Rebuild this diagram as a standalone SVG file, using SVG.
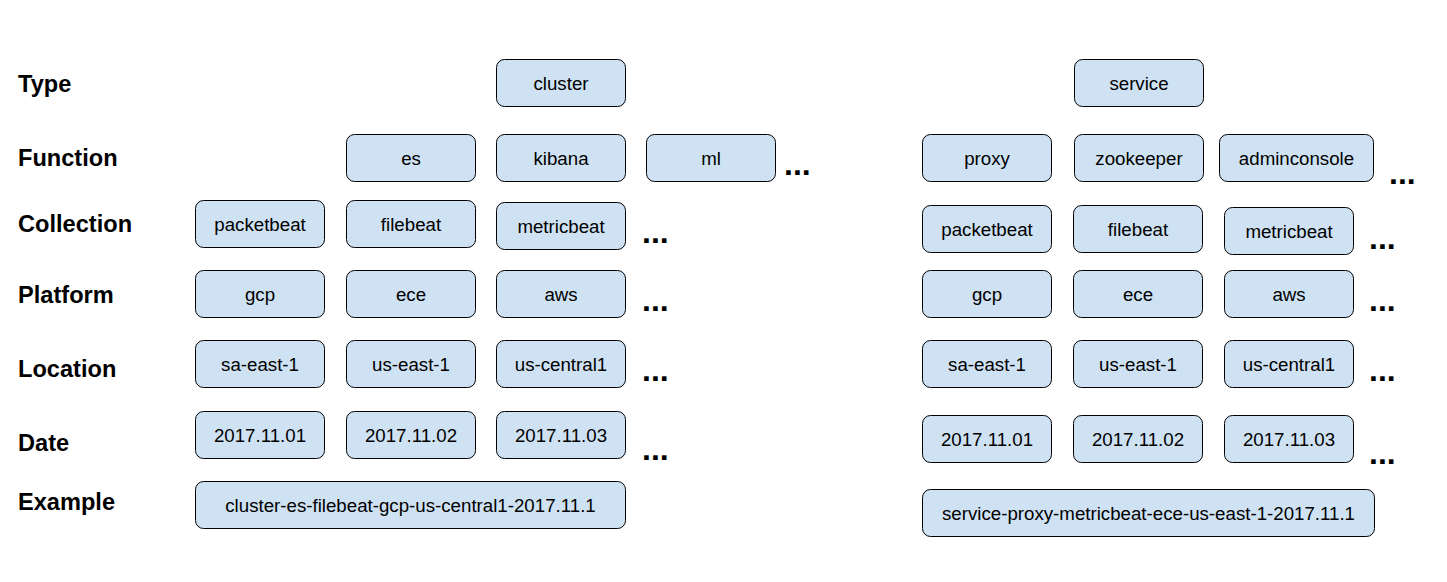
<svg xmlns="http://www.w3.org/2000/svg" width="1447" height="582" viewBox="0 0 1447 582">
<style>
.box rect{fill:#cfe2f3;stroke:#000;stroke-width:1}
.box text{font-family:"Liberation Sans",Arial,sans-serif;font-size:18.7px;fill:#000;text-anchor:middle}
.lbl{font-family:"Liberation Sans",Arial,sans-serif;font-size:23.6px;font-weight:bold;fill:#000}
.dots{font-family:"Liberation Sans",Arial,sans-serif;font-size:32px;font-weight:bold;fill:#000}
</style>
<rect width="1447" height="582" fill="#fff"/>
<g id="labels">
<text class="lbl" x="18" y="92">Type</text>
<text class="lbl" x="18" y="166">Function</text>
<text class="lbl" x="18" y="232">Collection</text>
<text class="lbl" x="18" y="303">Platform</text>
<text class="lbl" x="18" y="377">Location</text>
<text class="lbl" x="18" y="451">Date</text>
<text class="lbl" x="18" y="510">Example</text>
</g>
<g id="connectors"></g>
<g id="l-type-cluster" class="box"><rect x="496.5" y="59.5" width="129" height="47" rx="8"/><text x="561" y="89.5">cluster</text></g>
<g id="l-fn-es" class="box"><rect x="346.5" y="134.5" width="129" height="47" rx="8"/><text x="411" y="164.5">es</text></g>
<g id="l-fn-kibana" class="box"><rect x="496.5" y="134.5" width="129" height="47" rx="8"/><text x="561" y="164.5">kibana</text></g>
<g id="l-fn-ml" class="box"><rect x="646.5" y="134.5" width="129" height="47" rx="8"/><text x="711" y="164.5">ml</text></g>
<g id="l-col-packetbeat" class="box"><rect x="195.5" y="200.5" width="129" height="47" rx="8"/><text x="260" y="230.5">packetbeat</text></g>
<g id="l-col-filebeat" class="box"><rect x="346.5" y="200.5" width="129" height="47" rx="8"/><text x="411" y="230.5">filebeat</text></g>
<g id="l-col-metricbeat" class="box"><rect x="496.5" y="202.5" width="129" height="47" rx="8"/><text x="561" y="232.5">metricbeat</text></g>
<g id="l-plat-gcp" class="box"><rect x="195.5" y="270.5" width="129" height="47" rx="8"/><text x="260" y="300.5">gcp</text></g>
<g id="l-plat-ece" class="box"><rect x="346.5" y="270.5" width="129" height="47" rx="8"/><text x="411" y="300.5">ece</text></g>
<g id="l-plat-aws" class="box"><rect x="496.5" y="270.5" width="129" height="47" rx="8"/><text x="561" y="300.5">aws</text></g>
<g id="l-loc-sa" class="box"><rect x="195.5" y="340.5" width="129" height="47" rx="8"/><text x="260" y="370.5">sa-east-1</text></g>
<g id="l-loc-use" class="box"><rect x="346.5" y="340.5" width="129" height="47" rx="8"/><text x="411" y="370.5">us-east-1</text></g>
<g id="l-loc-usc" class="box"><rect x="496.5" y="340.5" width="129" height="47" rx="8"/><text x="561" y="370.5">us-central1</text></g>
<g id="l-date-1" class="box"><rect x="195.5" y="411.5" width="129" height="47" rx="8"/><text x="260" y="441.5">2017.11.01</text></g>
<g id="l-date-2" class="box"><rect x="346.5" y="411.5" width="129" height="47" rx="8"/><text x="411" y="441.5">2017.11.02</text></g>
<g id="l-date-3" class="box"><rect x="496.5" y="411.5" width="129" height="47" rx="8"/><text x="561" y="441.5">2017.11.03</text></g>
<g id="l-example" class="box"><rect x="195.5" y="481.5" width="430" height="47" rx="8"/><text x="410.5" y="511.5">cluster-es-filebeat-gcp-us-central1-2017.11.1</text></g>
<g id="r-type-service" class="box"><rect x="1074.5" y="59.5" width="129" height="47" rx="8"/><text x="1139" y="89.5">service</text></g>
<g id="r-fn-proxy" class="box"><rect x="922.5" y="134.5" width="129" height="47" rx="8"/><text x="987" y="164.5">proxy</text></g>
<g id="r-fn-zookeeper" class="box"><rect x="1074.5" y="134.5" width="129" height="47" rx="8"/><text x="1139" y="164.5">zookeeper</text></g>
<g id="r-fn-adminconsole" class="box"><rect x="1219.5" y="134.5" width="154" height="47" rx="8"/><text x="1296.5" y="164.5">adminconsole</text></g>
<g id="r-col-packetbeat" class="box"><rect x="922.5" y="205.5" width="129" height="47" rx="8"/><text x="987" y="235.5">packetbeat</text></g>
<g id="r-col-filebeat" class="box"><rect x="1073.5" y="205.5" width="129" height="47" rx="8"/><text x="1138" y="235.5">filebeat</text></g>
<g id="r-col-metricbeat" class="box"><rect x="1224.5" y="207.5" width="129" height="47" rx="8"/><text x="1289" y="237.5">metricbeat</text></g>
<g id="r-plat-gcp" class="box"><rect x="922.5" y="270.5" width="129" height="47" rx="8"/><text x="987" y="300.5">gcp</text></g>
<g id="r-plat-ece" class="box"><rect x="1073.5" y="270.5" width="129" height="47" rx="8"/><text x="1138" y="300.5">ece</text></g>
<g id="r-plat-aws" class="box"><rect x="1224.5" y="270.5" width="129" height="47" rx="8"/><text x="1289" y="300.5">aws</text></g>
<g id="r-loc-sa" class="box"><rect x="922.5" y="340.5" width="129" height="47" rx="8"/><text x="987" y="370.5">sa-east-1</text></g>
<g id="r-loc-use" class="box"><rect x="1073.5" y="340.5" width="129" height="47" rx="8"/><text x="1138" y="370.5">us-east-1</text></g>
<g id="r-loc-usc" class="box"><rect x="1224.5" y="340.5" width="129" height="47" rx="8"/><text x="1289" y="370.5">us-central1</text></g>
<g id="r-date-1" class="box"><rect x="922.5" y="415.5" width="129" height="47" rx="8"/><text x="987" y="445.5">2017.11.01</text></g>
<g id="r-date-2" class="box"><rect x="1073.5" y="415.5" width="129" height="47" rx="8"/><text x="1138" y="445.5">2017.11.02</text></g>
<g id="r-date-3" class="box"><rect x="1224.5" y="415.5" width="129" height="47" rx="8"/><text x="1289" y="445.5">2017.11.03</text></g>
<g id="r-example" class="box"><rect x="922.5" y="489.5" width="452" height="47" rx="8"/><text x="1148.5" y="519.5">service-proxy-metricbeat-ece-us-east-1-2017.11.1</text></g>
<g id="ellipses">
<text class="dots" x="784" y="175">...</text>
<text class="dots" x="642" y="243">...</text>
<text class="dots" x="642" y="311">...</text>
<text class="dots" x="642" y="381">...</text>
<text class="dots" x="642" y="460">...</text>
<text class="dots" x="1389" y="184">...</text>
<text class="dots" x="1369" y="249">...</text>
<text class="dots" x="1369" y="311">...</text>
<text class="dots" x="1369" y="381">...</text>
<text class="dots" x="1369" y="464">...</text>
</g>
</svg>
